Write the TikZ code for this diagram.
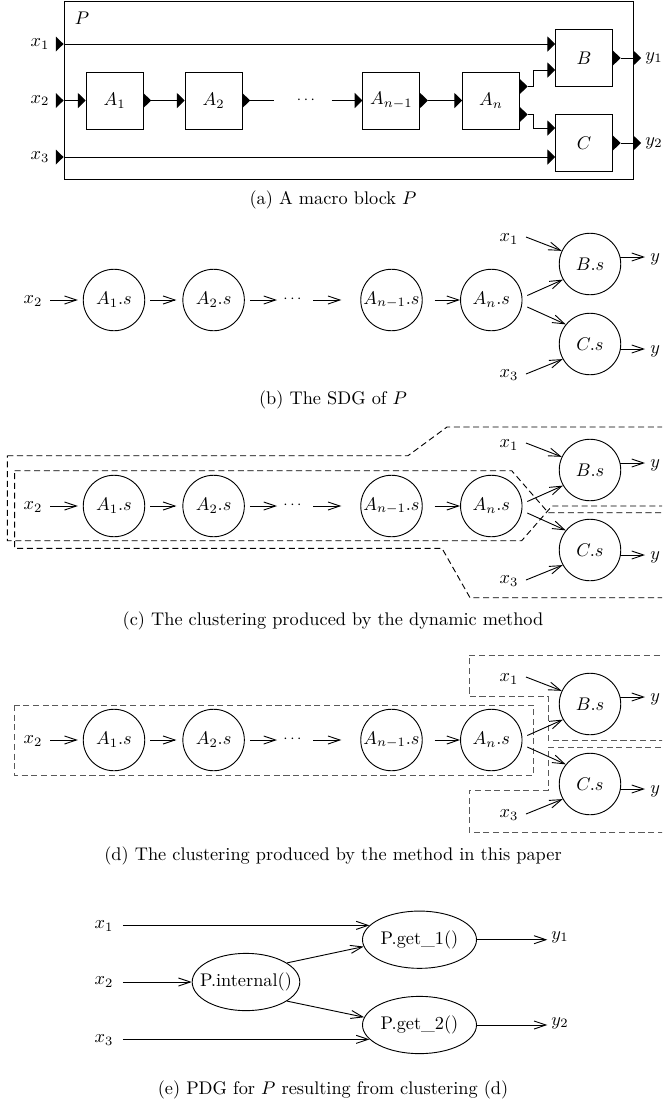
\documentclass[tikz,border=0pt]{standalone}
\usetikzlibrary{arrows.meta,calc,shapes.geometric}
\newcommand{\portIn}[1]{\fill (#1) -- ++(-7.7,-7.5) -- ++(0,15) -- cycle;}
\newcommand{\portOut}[1]{\fill (#1) ++(0,-7.5) -- ++(7.7,7.5) -- ++(-7.7,7.5) -- cycle;}
\newcommand{\sdgrow}[2]{%
 \node[lbl] (x2#2) at (33,#1+1) {$x_2$};
 \node[sn] (A1#2) at (114,#1) {\makebox[0pt]{$A_1.s$}};
 \node[sn] (A2#2) at (213.6,#1) {\makebox[0pt]{$A_2.s$}};
 \node[lbl] (d#2) at (292.5,#1-1) {\footnotesize$\cdots$};
 \node[sn] (An1#2) at (391.5,#1) {\makebox[0pt]{$A_{n-1}.s$}};
 \node[sn] (An#2) at (491.3,#1) {\makebox[0pt]{$A_n.s$}};
 \node[sn] (B#2) at (590,#1-36) {\makebox[0pt]{$B.s$}};
 \node[sn] (C#2) at (590,#1+44) {\makebox[0pt]{$C.s$}};
 \node[lbl] (x1#2) at (509,#1-61) {$x_1$};
 \node[lbl] (x3#2) at (509,#1+75) {$x_3$};
 \node[lbl,anchor=west] (y1#2) at (650,#1-41) {$y$};
 \node[lbl,anchor=west] (y2#2) at (650,#1+51) {$y$};
 \draw[arr] ($(x2#2)+(17,-1)$) -- ($(A1#2.west)+(-5,0)$);
 \draw[arr] ($(A1#2.east)+(5,0)$) -- ($(A2#2.west)+(-6,0)$);
 \draw[arr] ($(A2#2.east)+(5,0)$) -- ($(d#2)+(-15.5,1)$);
 \draw[arr] ($(d#2)+(20.5,1)$) -- ($(An1#2.west)+(-19,0)$);
 \draw[arr] ($(An1#2.east)+(12,0)$) -- (An#2.west);
 \draw[arr] ($(An#2)+(36,-4.5)$) -- (B#2.210);
 \draw[arr] ($(An#2)+(36,7)$) -- (C#2.141);
 \draw[arr] ($(x1#2)+(17,-2)$) -- (B#2.155);
 \draw[arr] ($(x3#2)+(17,-1)$) -- (C#2.209);
 \draw[arr] ($(B#2)+(30,-7)$) -- ($(B#2)+(55,-7)$);
 \draw[arr] ($(C#2)+(30.3,5)$) -- ($(C#2)+(55,5)$);
}
\begin{document}
\begin{tikzpicture}[x=0.5464pt,y=-0.5464pt,line width=0.5pt,
  blk/.style={draw,minimum size=31.1pt,inner sep=0pt},
  sn/.style={circle,draw,minimum size=33.6pt,inner sep=0pt},
  el/.style={ellipse,draw,minimum width=62.3pt,minimum height=31.3pt,inner sep=0pt},
  lbl/.style={inner sep=0pt},
  arr/.style={-{Straight Barb[length=6.5pt,width=4.4pt]}},
  tri/.style={-{Triangle[length=4.2pt,width=8.2pt]}},
  clus/.style={dash pattern=on 3.3pt off 2pt}]
\useasboundingbox (0,0) rectangle (662,1102);
\clip (0,0) rectangle (662,1102);

% ---------- (a) ----------
\node[draw,minimum width=310.9pt,minimum height=97.3pt,inner sep=0pt] (P) at (348.5,90) {};
\node[lbl] (Plab) at (82,18) {$P$};
\node[lbl] (xa1) at (40,44) {$x_1$};
\node[lbl] (xa2) at (40,100.5) {$x_2$};
\node[lbl] (xa3) at (40,157) {$x_3$};
\node[blk] (A1) at (114.5,100.5) {$A_1$};
\node[blk] (A2) at (213.5,100.5) {$A_2$};
\node[lbl] (dA) at (306,100) {\footnotesize$\cdots$};
\node[blk] (An1) at (391.3,100.5) {$A_{n-1}$};
\node[blk] (An) at (491,100.5) {$A_n$};
\node[blk] (B) at (584,58) {$B$};
\node[blk] (C) at (584,143) {$C$};
\node[lbl,anchor=west] (ya1) at (645,58) {$y_1$};
\node[lbl,anchor=west] (ya2) at (645,143) {$y_2$};

\portIn{xa1 -| P.west}
\portIn{xa2 -| P.west}
\portIn{xa3 -| P.west}
\draw[tri] (xa1 -| P.west) -- (xa1 -| B.west);
\draw[tri] (xa2 -| P.west) -- (A1.west);
\draw[tri] (xa3 -| P.west) -- (xa3 -| C.west);
\portOut{A1.east}
\draw[tri] ($(A1.east)+(7.7,0)$) -- (A2.west);
\portOut{A2.east}
\draw ($(A2.east)+(7.7,0)$) -- ($(dA.west)+(-22,0.5)$);
\draw[tri] ($(dA.east)+(16,0.5)$) -- (An1.west);
\portOut{An1.east}
\draw[tri] ($(An1.east)+(7.7,0)$) -- (An.west);
\portOut{$(An.east)+(0,-14)$}
\portOut{$(An.east)+(0,14)$}
\draw[tri] ($(An.east)+(7.7,-14)$) -- ++(6,0) |- ($(B.west)+(0,12)$);
\draw[tri] ($(An.east)+(7.7,14)$) -- ++(6,0) |- ($(C.west)+(0,-15)$);
\portOut{B.east}
\portOut{C.east}
\draw ($(B.east)+(7.7,0)$) -- (B.east -| P.east);
\draw ($(C.east)+(7.7,0)$) -- (C.east -| P.east);
\portOut{B.east -| P.east}
\portOut{C.east -| P.east}
\node (capa) at (333,200) {(a) A macro block $P$};

% ---------- (b) ----------
\sdgrow{300}{b}
\node (capb) at (333,400) {(b) The SDG of $P$};

% ---------- (c) ----------
\draw[clus] (7.3,455.7) -- (408,455.7) -- (447,427) -- (680,427) -- (680,506)
  -- (552,506) -- (521.7,540.7) -- (7.3,540.7) -- cycle;
\draw[clus] (14.7,470.7) -- (511.7,470.7) -- (548.3,512.7) -- (680,512.7) -- (680,597.7)
  -- (470,597.7) -- (442,548.3) -- (14.7,548.3) -- cycle;
\sdgrow{506}{c}
\node (capc) at (333,621) {(c) The clustering produced by the dynamic method};

% ---------- (d) ----------
\draw[clus,black!65] (14.7,705) rectangle (533.3,775.7);
\draw[clus,black!65] (469.3,655) -- (680,655) -- (680,740) -- (548.3,740) -- (548.3,696.7)
  -- (469.3,696.7) -- cycle;
\draw[clus,black!65] (548.3,747.3) -- (680,747.3) -- (680,832.3) -- (469.3,832.3)
  -- (469.3,790) -- (548.3,790) -- cycle;
\sdgrow{740}{d}
\node (capd) at (333,856) {(d) The clustering produced by the method in this paper};

% ---------- (e) ----------
\node[inner xsep=5pt,inner ysep=0pt] (xe1) at (104,926) {$x_1$};
\node[inner xsep=5pt,inner ysep=0pt] (xe2) at (104,982) {$x_2$};
\node[inner xsep=5pt,inner ysep=0pt] (xe3) at (104,1040) {$x_3$};
\node[el] (G1) at (419.5,939.7) {\makebox[0pt]{P.get\_1()}};
\node[el] (G2) at (419.5,1025) {\makebox[0pt]{P.get\_2()}};
\node[el,minimum width=58.8pt] (PI) at (246,982) {\makebox[0pt]{P.internal()}};
\node[lbl,anchor=west] (ye1) at (551,937) {$y_1$};
\node[lbl,anchor=west] (ye2) at (551,1023) {$y_2$};
\draw[arr] (xe1.east |- G1.164) -- (G1.164);
\draw[arr] (xe2.east) -- (PI.west);
\draw[arr] (xe3.east |- G2.196) -- (G2.196);
\draw[arr] (PI.25) -- (G1.187);
\draw[arr] (PI.-25) -- (G2.172);
\draw[arr,shorten >=2pt] (G1.east) -- (G1.east -| ye1.west);
\draw[arr,shorten >=2pt] (G2.east) -- (G2.east -| ye2.west);
\node (cape) at (333,1090) {(e) PDG for $P$ resulting from clustering (d)};
\end{tikzpicture}
\end{document}
